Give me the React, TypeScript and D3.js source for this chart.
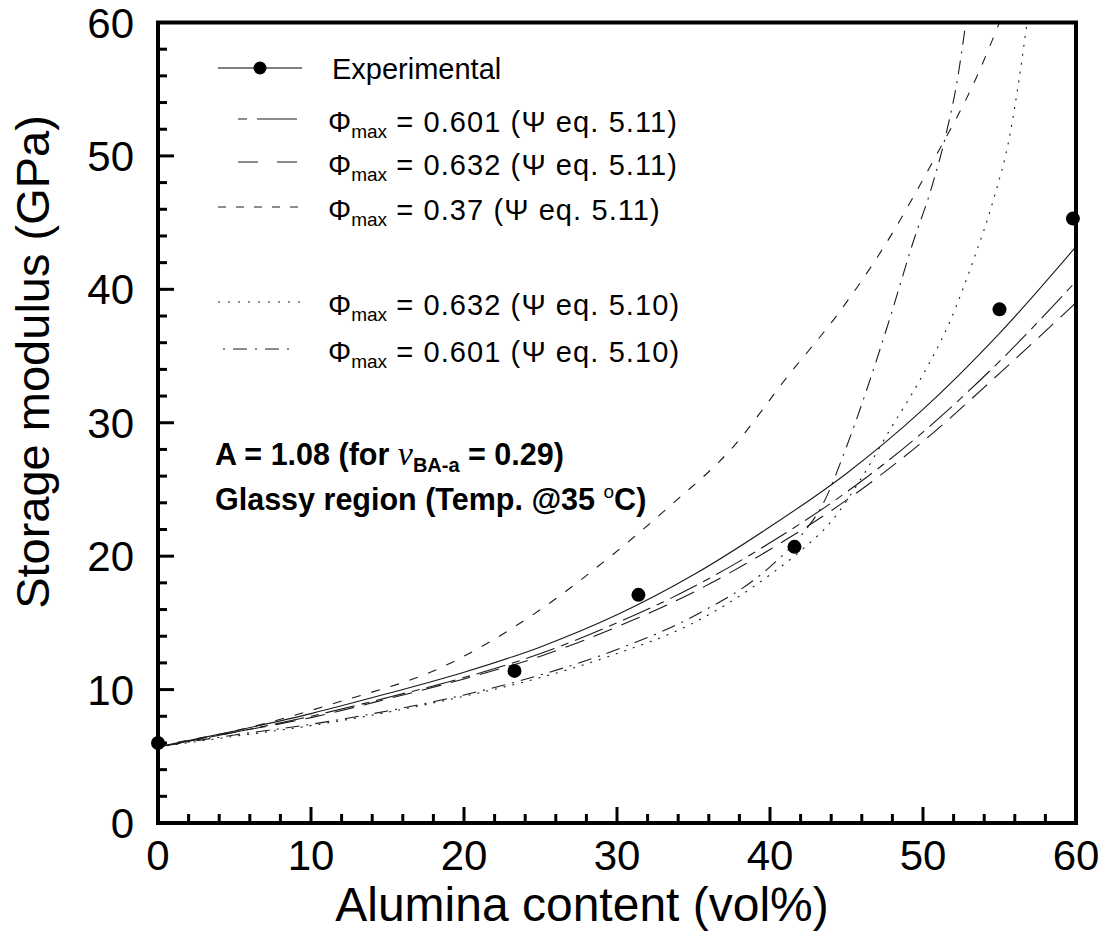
import React from "react";
import * as d3 from "d3";

// ---- data ----
const expX = [0, 23.3, 31.4, 41.6, 55.0, 59.8];
const expY = [6.0, 11.4, 17.1, 20.7, 38.5, 45.3];

// Experimental trend line - solid
const sExpFit: [number, number][] = [
  [0, 5.7], [5, 6.9], [10, 8.2], [15, 9.7], [20, 11.3], [25, 13.2], [30, 15.6],
  [35, 18.6], [40, 22.2], [45, 26.2], [50, 31.0], [55, 36.7], [60, 43.2],
];
// Phi_max = 0.601 (Psi eq. 5.11) - short/long dash
const s601_511: [number, number][] = [
  [0, 5.7], [5, 6.8], [10, 8.0], [15, 9.4], [20, 10.9], [25, 12.7], [30, 15.0],
  [35, 17.7], [40, 21.0], [45, 24.8], [50, 29.3], [55, 34.6], [60, 40.6],
];
// Phi_max = 0.632 (Psi eq. 5.11) - long dash
const s632_511: [number, number][] = [
  [0, 5.7], [5, 6.8], [10, 7.9], [15, 9.3], [20, 10.8], [25, 12.5], [30, 14.7],
  [35, 17.3], [40, 20.5], [45, 24.2], [50, 28.6], [55, 33.7], [60, 39.0],
];
// Phi_max = 0.37 (Psi eq. 5.11) - short dash
const s37_511: [number, number][] = [
  [0, 5.8], [5.4, 7.0], [11.9, 9.1], [18.4, 11.6], [25, 16.0], [29.7, 20.1],
  [33.5, 23.8], [37.6, 28.2], [41.1, 33.4], [44.6, 38.4], [47.4, 43.1],
  [50.7, 49.7], [53.5, 55.9], [55, 60],
];
// Phi_max = 0.632 (Psi eq. 5.10) - dotted
const s632_510: [number, number][] = [
  [0, 5.7], [5, 6.5], [10, 7.3], [15, 8.3], [20, 9.5], [25, 10.9], [30, 12.7],
  [35, 15.0], [40, 18.6], [42, 20.4], [44, 22.6], [46, 25.9], [47.8, 29.4],
  [49.8, 33.2], [51.8, 37.7], [53.3, 42.2], [54.6, 46.7], [55.7, 51.7],
  [56.3, 55.9], [56.8, 60],
];
// Phi_max = 0.601 (Psi eq. 5.10) - dash-dot
const s601_510: [number, number][] = [
  [0, 5.7], [5, 6.6], [10, 7.4], [15, 8.4], [20, 9.6], [25, 11.1], [30, 13.0],
  [35, 15.5], [40, 19.2], [42, 21.5], [43.5, 24.0], [45, 28.2], [46.3, 32.4],
  [47.8, 37.7], [49.4, 43.7], [50.5, 47.4], [51.6, 52.1], [52.2, 55.4], [52.8, 60],
];

const xTickLabels = [0, 10, 20, 30, 40, 50, 60];
const yTickLabels = [0, 10, 20, 30, 40, 50, 60];
const minorTicks = d3.range(0, 61, 2);

const legendValues = ["0.601", "0.632", "0.37", "0.632", "0.601"];
const legendEqs = ["5.11", "5.11", "5.11", "5.10", "5.10"];

export default function App() {
  const W = 1106, H = 939;
  const x = d3.scaleLinear().domain([0, 60]).range([158, 1076]);
  const y = d3.scaleLinear().domain([0, 60]).range([823, 22.5]);
  const line = d3
    .line<[number, number]>()
    .x((d) => x(d[0]))
    .y((d) => y(d[1]))
    .curve(d3.curveMonotoneX);

  const series = [
    { data: sExpFit, dash: "none" },
    { data: s601_511, dash: "8,7,30,7" },
    { data: s632_511, dash: "20,10" },
    { data: s37_511, dash: "9,11" },
    { data: s632_510, dash: "2,7" },
    { data: s601_510, dash: "2,7,14,7" },
  ];

  const legendDash = ["9,10,40,0", "20,19", "8,10", "2,8", "2,8,14,8"];
  const legendRowsY = [132, 175, 220, 315, 362];
  const legendLineX0 = [238, 238, 218, 218, 223];
  const legendLineX1 = [297, 297, 302, 300, 290];

  const font = "'Liberation Sans', Arial, sans-serif";

  return (
    <svg width={W} height={H} style={{ position: "absolute", left: 0, top: 0, background: "#fff" }}>
      <defs>
        <clipPath id="plotclip">
          <rect x={x(0)} y={y(60)} width={x(60) - x(0)} height={y(0) - y(60)} />
        </clipPath>
      </defs>
      <rect x={0} y={0} width={W} height={H} fill="#fff" />

      {/* curves */}
      <g clipPath="url(#plotclip)" fill="none" stroke="#1a1a1a" strokeWidth={1.1}>
        {series.map((s, i) => (
          <path key={i} d={line(s.data) || ""} strokeDasharray={s.dash} />
        ))}
      </g>

      {/* ticks */}
      <g stroke="#000" strokeWidth={3}>
        {minorTicks.map((t) => {
          const len = t % 10 === 0 ? 16 : 9;
          return <line key={"xt" + t} x1={x(t)} x2={x(t)} y1={y(0)} y2={y(0) - len} />;
        })}
        {minorTicks.map((t) => {
          const len = t % 10 === 0 ? 16 : 9;
          return <line key={"yt" + t} x1={x(0)} x2={x(0) + len} y1={y(t)} y2={y(t)} />;
        })}
      </g>

      {/* frame */}
      <rect x={x(0)} y={y(60)} width={x(60) - x(0)} height={y(0) - y(60)} fill="none" stroke="#000" strokeWidth={4} />

      {/* experimental points */}
      <g fill="#000">
        {expX.map((v, i) => (
          <circle key={i} cx={x(v)} cy={y(expY[i])} r={7} />
        ))}
      </g>

      {/* tick labels */}
      <g fontFamily={font} fontSize={42} fill="#000">
        {xTickLabels.map((t) => (
          <text key={"xl" + t} x={x(t)} y={870} textAnchor="middle">{t}</text>
        ))}
        {yTickLabels.map((t) => (
          <text key={"yl" + t} x={134} y={y(t) + 15} textAnchor="end">{t}</text>
        ))}
      </g>

      {/* axis titles */}
      <text x={582} y={921} fontFamily={font} fontSize={48} textAnchor="middle">Alumina content (vol%)</text>
      <text transform={`translate(49,362) rotate(-90)`} fontFamily={font} fontSize={47} textAnchor="middle">Storage modulus (GPa)</text>

      {/* legend */}
      <g fontFamily={font} fontSize={29} fill="#000">
        <line x1={218} x2={302} y1={68} y2={68} stroke="#000" strokeWidth={1.2} />
        <circle cx={260} cy={68} r={6.5} fill="#000" />
        <text x={332} y={79}>Experimental</text>
        {legendValues.map((v, i) => (
          <g key={"lg" + i}>
            <line
              x1={legendLineX0[i]}
              x2={legendLineX1[i]}
              y1={legendRowsY[i] - 13}
              y2={legendRowsY[i] - 13}
              stroke="#1a1a1a"
              strokeWidth={1.1}
              strokeDasharray={legendDash[i]}
            />
            <text x={328} y={legendRowsY[i]}>
              <tspan>Φ</tspan>
              <tspan fontSize={19} dy={6}>max</tspan>
              <tspan dy={-6} letterSpacing={1.1}>{` = ${v} (Ψ eq. ${legendEqs[i]})`}</tspan>
            </text>
          </g>
        ))}
      </g>

      {/* annotation */}
      <g fontFamily={font} fontSize={30.5} fontWeight="bold" fill="#000">
        <text x={215} y={465}>
          <tspan>A = 1.08 (for </tspan>
          <tspan fontFamily="'Liberation Serif', 'Times New Roman', serif" fontStyle="italic" fontWeight="normal" fontSize={34}>ν</tspan>
          <tspan fontSize={20} dy={7}>BA-a</tspan>
          <tspan dy={-7}> = 0.29)</tspan>
        </text>
        <text x={215} y={510}>
          <tspan>Glassy region (Temp. @35 </tspan>
          <tspan fontSize={19} fontWeight="normal" dy={-12}>o</tspan>
          <tspan dy={12}>C)</tspan>
        </text>
      </g>
    </svg>
  );
}
